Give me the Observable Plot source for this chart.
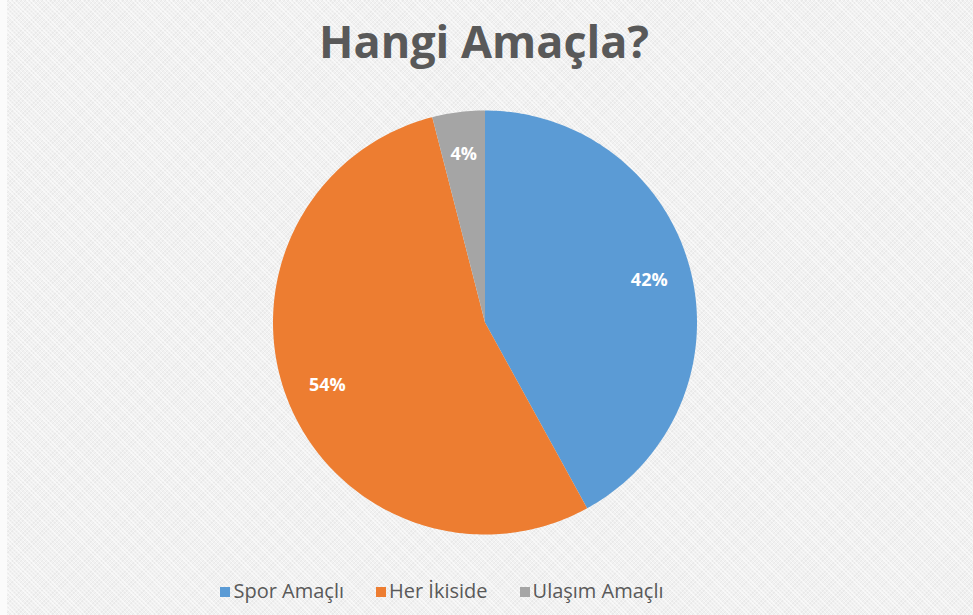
<!DOCTYPE html>
<html>
<head>
<meta charset="utf-8">
<script src="https://cdn.jsdelivr.net/npm/d3@7"></script>
<script src="https://cdn.jsdelivr.net/npm/@observablehq/plot@0.6"></script>
<style>
  html, body { margin: 0; padding: 0; }
  #wrap {
    position: relative; width: 973px; height: 615px; overflow: hidden;
    background-color: #f1f1f1;
    background-image:
      repeating-linear-gradient(45deg, rgba(255,255,255,0.55) 0 1px, rgba(255,255,255,0) 1px 3px),
      repeating-linear-gradient(-45deg, rgba(225,225,225,0.5) 0 1px, rgba(255,255,255,0) 1px 3px);
    font-family: "Open Sans", sans-serif;
  }
  #strip { position: absolute; left: 0; top: 0; width: 7px; height: 615px; background: #fbfbfb; }
  #title {
    position: absolute; left: 0; top: 10px; width: 968px; text-align: center;
    font-size: 45px; font-weight: 700; color: #595959; letter-spacing: 0px;
  }
  #chart { position: absolute; left: 0; top: 95px; }
  #legend {
    position: absolute; left: 0; top: 577px; width: 884px; text-align: center;
    font-size: 20px; color: #595959; white-space: nowrap;
  }
  .item { display: inline-block; margin: 0 16px; }
  .sw { display: inline-block; width: 10px; height: 10px; margin-right: 3px; vertical-align: 1px; }
</style>
</head>
<body>
<div id="wrap">
  <div id="strip"></div>
  <div id="title">Hangi Amaçla?</div>
  <div id="chart"></div>
  <div id="legend"></div>
</div>
<script>
const categories = ["Spor Amaçlı", "Her İkiside", "Ulaşım Amaçlı"];
const values = [42, 54, 4];
const labels = ["42%", "54%", "4%"];
const colors = ["#5B9BD5", "#ED7D31", "#A5A5A5"];

const data = categories.map((c, i) => ({category: c, value: values[i], label: labels[i]}));
const arcs = d3.pie().sort(null).value(d => d.value)(data);

// polygon points for each slice (unit circle, angle clockwise from 12 o'clock)
const polys = [];
arcs.forEach(a => {
  const n = Math.max(4, Math.ceil((a.endAngle - a.startAngle) / (Math.PI / 180)));
  polys.push({category: a.data.category, x: 0, y: 0});
  for (let k = 0; k <= n; k++) {
    const t = a.startAngle + (a.endAngle - a.startAngle) * k / n;
    polys.push({category: a.data.category, x: Math.sin(t), y: Math.cos(t)});
  }
  polys.push({category: a.data.category, x: 0, y: 0});
});
const labelPts = arcs.map(a => {
  const t = (a.startAngle + a.endAngle) / 2;
  return {category: a.data.category, label: a.data.label, x: 0.8 * Math.sin(t), y: 0.8 * Math.cos(t)};
});

const R = 212, cx = 484.5, cy = 227;
const plot = Plot.plot({
  width: 973, height: 460,
  margin: 0,
  x: {domain: [-1, 1], range: [cx - R, cx + R], axis: null},
  y: {domain: [-1, 1], range: [cy + R, cy - R], axis: null},
  color: {domain: categories, range: colors},
  style: {background: "transparent", overflow: "visible"},
  marks: [
    Plot.line(polys, {x: "x", y: "y", z: "category", fill: "category", stroke: "none", curve: "linear"}),
    Plot.text(labelPts, {x: "x", y: "y", text: "label", fill: "white", fontSize: 18, fontWeight: 700,
      fontFamily: "Open Sans, sans-serif"})
  ]
});
document.getElementById("chart").appendChild(plot);

const leg = document.getElementById("legend");
categories.forEach((c, i) => {
  const s = document.createElement("span");
  s.className = "item";
  s.innerHTML = `<span class="sw" style="background:${colors[i]}"></span>${c}`;
  leg.appendChild(s);
});
</script>
</body>
</html>
